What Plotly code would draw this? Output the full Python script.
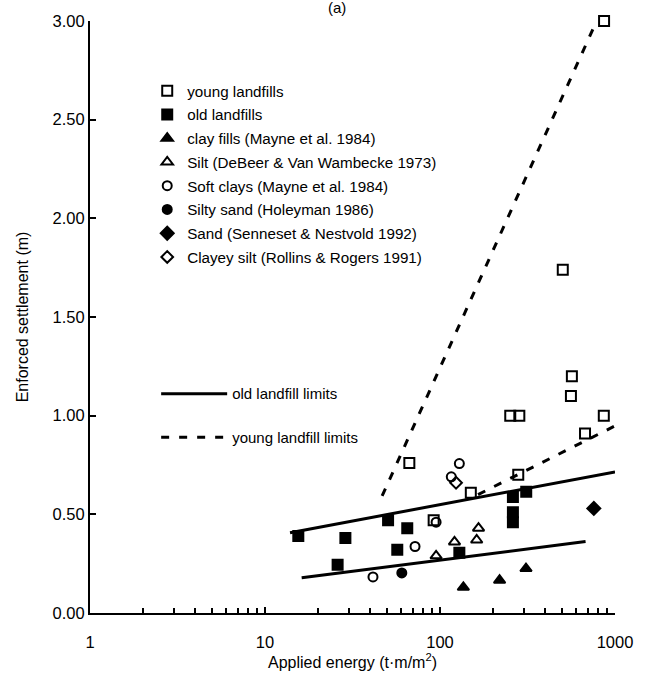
import plotly.graph_objects as go

# ---- data (applied energy t·m/m2, enforced settlement m) ----
young_E = [866, 503, 567, 560, 252, 284, 863, 674, 280, 66.8, 150, 92]
young_S = [3.00, 1.74, 1.20, 1.10, 1.00, 1.00, 1.00, 0.91, 0.70, 0.76, 0.61, 0.47]

old_E = [15.5, 28.8, 50.5, 65, 57, 26, 129, 261, 311, 261, 261]
old_S = [0.39, 0.38, 0.47, 0.43, 0.32, 0.245, 0.305, 0.588, 0.615, 0.51, 0.46]

clayfill_E = [136, 219, 310]
clayfill_S = [0.13, 0.166, 0.225]

silt_E = [95, 121, 162, 166]
silt_S = [0.29, 0.36, 0.37, 0.43]

softclay_E = [41.4, 72, 95, 116, 129]
softclay_S = [0.183, 0.337, 0.46, 0.69, 0.757]

siltysand_E = [60.5]
siltysand_S = [0.203]

sand_E = [757]
sand_S = [0.53]

clayeysilt_E = [123.5]
clayeysilt_S = [0.66]

old_upper_E = [13.9, 1000]
old_upper_S = [0.407, 0.715]
old_lower_E = [16.2, 679]
old_lower_S = [0.179, 0.362]
young_upper_E = [46.7, 785]
young_upper_S = [0.593, 3.0]
young_lower_E = [165, 1000]
young_lower_S = [0.60, 0.948]

x_tickvals = [1, 10, 100, 1000]
x_ticktext = ["1", "10", "100", "1000"]
y_tickvals = [0, 0.5, 1.0, 1.5, 2.0, 2.5, 3.0]

FONT = "Liberation Sans, Arial, sans-serif"

fig = go.Figure()

# limit lines (second legend)
fig.add_trace(go.Scatter(x=old_upper_E, y=old_upper_S, mode="lines",
                         line=dict(color="black", width=3),
                         name="old landfill limits", legend="legend2",
                         legendgroup="ol"))
fig.add_trace(go.Scatter(x=old_lower_E, y=old_lower_S, mode="lines",
                         line=dict(color="black", width=3),
                         name="old landfill limits", legend="legend2",
                         legendgroup="ol", showlegend=False))
fig.add_trace(go.Scatter(x=young_upper_E, y=young_upper_S, mode="lines",
                         line=dict(color="black", width=3, dash="8px,10px"),
                         name="young landfill limits", legend="legend2",
                         legendgroup="yl"))
fig.add_trace(go.Scatter(x=young_lower_E, y=young_lower_S, mode="lines",
                         line=dict(color="black", width=3, dash="8px,10px"),
                         name="young landfill limits", legend="legend2",
                         legendgroup="yl", showlegend=False))

series = [
    ("young landfills", young_E, young_S, "square-open", 10),
    ("old landfills", old_E, old_S, "square", 10),
    ("clay fills (Mayne et al. 1984)", clayfill_E, clayfill_S, "triangle-up", 10),
    ("Silt (DeBeer & Van Wambecke 1973)", silt_E, silt_S, "triangle-up-open", 10),
    ("Soft clays (Mayne et al. 1984)", softclay_E, softclay_S, "circle-open", 9),
    ("Silty sand (Holeyman 1986)", siltysand_E, siltysand_S, "circle", 9),
    ("Sand (Senneset & Nestvold 1992)", sand_E, sand_S, "diamond", 10),
    ("Clayey silt (Rollins & Rogers 1991)", clayeysilt_E, clayeysilt_S, "diamond-open", 9),
]
for i, (name, xs, ys, sym, sz) in enumerate(series):
    fig.add_trace(go.Scatter(
        x=xs, y=ys, mode="markers", name=name, legendgroup="g%d" % i,
        cliponaxis=False,
        marker=dict(symbol=sym, size=sz, color="black",
                    line=dict(color="black", width=2)),
    ))

fig.update_layout(
    width=645, height=679,
    margin=dict(l=90, r=22, t=16, b=66),
    paper_bgcolor="white", plot_bgcolor="white",
    font=dict(family=FONT, color="black", size=15),
    legend=dict(x=0.109, y=0.91, xanchor="left", yanchor="top",
                bgcolor="rgba(0,0,0,0)", font=dict(size=15.2, family=FONT),
                tracegroupgap=1, itemsizing="trace"),
    legend2=dict(x=0.126, y=0.398, xanchor="left", yanchor="top",
                 bgcolor="rgba(0,0,0,0)", font=dict(size=15, family=FONT),
                 tracegroupgap=21, itemwidth=66),
    xaxis=dict(type="log", range=[0, 3], showline=True, linecolor="black",
               linewidth=2, showgrid=False, zeroline=False,
               tickvals=x_tickvals, ticktext=x_ticktext, ticks="inside",
               ticklen=6, tickwidth=1.5, tickcolor="black",
               ticklabelstandoff=13,
               minor=dict(ticks="inside", ticklen=5, dtick="D1",
                          tickcolor="black", tickwidth=1.5, showgrid=False),
               tickfont=dict(size=16.5, family=FONT),
               title=dict(text="Applied energy (t·m/m<sup>2</sup>)",
                          font=dict(size=16, family=FONT), standoff=4)),
    yaxis=dict(range=[0, 3], showline=True, linecolor="black", linewidth=2,
               showgrid=False, zeroline=False, tickvals=y_tickvals,
               tickformat=".2f", ticks="inside", ticklen=6, tickwidth=1.5,
               tickcolor="black", tickfont=dict(size=16.5, family=FONT),
               title=dict(text="Enforced settlement (m)",
                          font=dict(size=16, family=FONT), standoff=20)),
    annotations=[dict(text="(a)", xref="paper", yref="paper", x=0.47, y=1.0,
                      yanchor="bottom", showarrow=False, yshift=3,
                      font=dict(size=15, family=FONT))],
)

fig.write_html("out.html")
